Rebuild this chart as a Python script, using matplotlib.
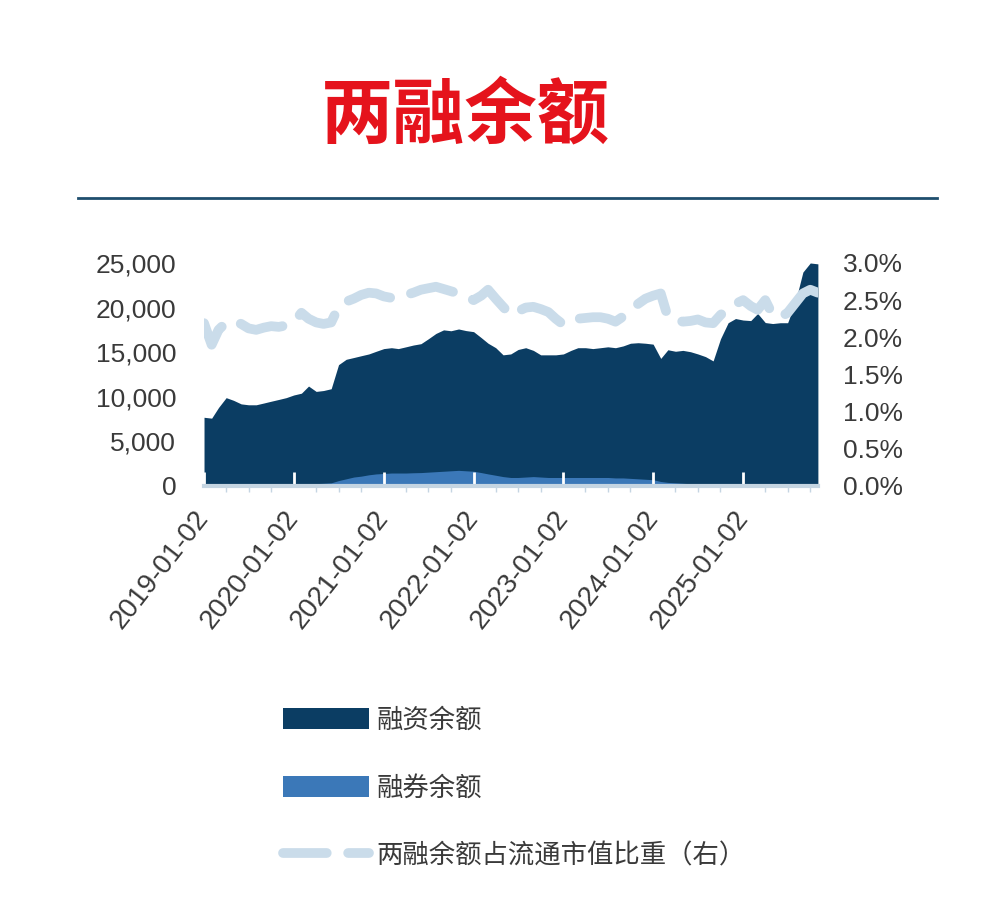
import matplotlib
matplotlib.use("Agg")
import matplotlib.pyplot as plt
import matplotlib.dates as mdates
from matplotlib.patches import Patch
from matplotlib.lines import Line2D
from matplotlib.ticker import FuncFormatter, FixedLocator
import pandas as pd

plt.rcParams['font.family'] = ['Liberation Sans', 'Noto Sans CJK SC']

# monthly data, 2019-01 .. 2025-11 (亿元 / %)
dates = pd.date_range('2019-01-01', periods=83, freq='MS') + pd.Timedelta(days=1)

financing = [7700, 7600, 8800, 9900, 9600, 9200, 9100, 9100, 9300, 9500, 9700, 9900,
             10200, 10400, 11200, 10600, 10700, 10900, 13600, 14200, 14400, 14600, 14800, 15100,
             15400, 15500, 15400, 15600, 15800, 15950, 16500, 17100, 17500, 17400, 17600, 17420,
             17300, 16630, 16000, 15500, 14700, 14800, 15300, 15500, 15200, 14700, 14700, 14700,
             14800, 15200, 15500, 15500, 15400, 15500, 15600, 15500, 15700, 16000, 16060, 16000,
             15900, 14300, 15270, 15100, 15200, 15050, 14800, 14500, 14020, 16500, 18300, 18770,
             18600, 18540, 19340, 18320, 18210, 18300, 18300, 20600, 23980, 25000, 24900]

lending = [70, 80, 100, 110, 110, 120, 130, 140, 150, 160, 170, 190,
           200, 220, 230, 260, 300, 350, 600, 800, 1000, 1100, 1250, 1350,
           1400, 1450, 1450, 1450, 1480, 1500, 1550, 1600, 1650, 1700, 1750, 1700,
           1650, 1500, 1350, 1200, 1050, 950, 950, 1000, 1050, 1000, 950, 950,
           950, 950, 950, 950, 950, 950, 950, 900, 900, 850, 800, 750,
           700, 500, 400, 350, 300, 250, 220, 180, 150, 130, 120, 110,
           110, 110, 120, 120, 120, 130, 140, 150, 160, 170, 180]

ratio = [2.19, 1.90, 2.10, 2.20, 2.22, 2.18, 2.12, 2.10, 2.13, 2.15, 2.14, 2.16,
         2.20, 2.33, 2.25, 2.20, 2.18, 2.20, 2.41, 2.48, 2.52, 2.57, 2.60, 2.59,
         2.55, 2.53, 2.56, 2.57, 2.60, 2.64, 2.66, 2.68, 2.65, 2.62, 2.59, 2.55,
         2.50, 2.56, 2.64, 2.52, 2.41, 2.30, 2.35, 2.40, 2.41, 2.38, 2.34, 2.25,
         2.17, 2.22, 2.25, 2.26, 2.27, 2.27, 2.25, 2.21, 2.28, 2.36, 2.45, 2.52,
         2.56, 2.59, 2.27, 2.24, 2.21, 2.22, 2.24, 2.20, 2.19, 2.30, 2.39, 2.45,
         2.50, 2.42, 2.37, 2.50, 2.30, 2.27, 2.33, 2.46, 2.59, 2.64, 2.60]

tick_labels = ['2019-01-02', '2020-01-02', '2021-01-02', '2022-01-02',
               '2023-01-02', '2024-01-02', '2025-01-02']
left_ticks = [0, 5000, 10000, 15000, 20000, 25000]
right_ticks = [0.0, 0.5, 1.0, 1.5, 2.0, 2.5, 3.0]

c_fin = '#0b3d63'
c_lend = '#3b78b8'
c_ratio = '#cadcea'
c_text = '#3a3a3a'

fig = plt.figure(figsize=(10.08, 9.15), dpi=100)
ax = fig.add_axes([0.2024, 0.4689, 0.609, 0.2437])

ax.fill_between(dates, 0, financing, color=c_fin, lw=0)
ax.fill_between(dates, 0, lending, color=c_lend, lw=0)
ax.set_xlim(dates[0], dates[-1])
ax.set_ylim(0, 25000)
ax.set_yticks(left_ticks)
ax.yaxis.set_major_formatter(FuncFormatter(lambda v, p: f'{int(v):,}'))
ax.tick_params(axis='y', length=0, pad=20, labelsize=19, labelcolor=c_text)

ax.xaxis.set_major_locator(FixedLocator(mdates.date2num(pd.to_datetime(tick_labels))))
ax.set_xticklabels(tick_labels, rotation=52, ha='right', va='center',
                   rotation_mode='anchor', fontsize=20, color=c_text)
ax.xaxis.set_minor_locator(mdates.MonthLocator(bymonth=[4, 7, 10], bymonthday=2))
ax.tick_params(axis='x', which='major', direction='in', length=10, width=2,
               color='white', pad=20)
ax.tick_params(axis='x', which='minor', direction='out', length=4, width=1,
               color='#c5d5e2')
for s in ['top', 'left', 'right']:
    ax.spines[s].set_visible(False)
ax.spines['bottom'].set_color('#c5d5e2')
ax.spines['bottom'].set_linewidth(3)

ax2 = ax.twinx()
ax2.plot(dates, ratio, color=c_ratio, lw=7, dashes=(4.5, 2.2), dash_capstyle='round')
ax2.set_ylim(0, 3.0)
ax2.set_yticks(right_ticks)
ax2.yaxis.set_major_formatter(FuncFormatter(lambda v, p: f'{v:.1f}%'))
ax2.tick_params(axis='y', length=0, pad=18, labelsize=19, labelcolor=c_text)
for s in ['top', 'left', 'right', 'bottom']:
    ax2.spines[s].set_visible(False)

# title and rule
fig.text(0.462, 0.873, '两融余额', ha='center', va='center', fontsize=52,
         fontweight='bold', color='#e5131c', family=['Noto Sans CJK SC'])
fig.add_artist(Line2D([0.077, 0.93], [0.7836, 0.7836], color='#1f4e6e', lw=2))

handles = [Patch(facecolor=c_fin, edgecolor='none'),
           Patch(facecolor=c_lend, edgecolor='none'),
           Line2D([0], [0], color=c_ratio, lw=7, dashes=(4.5, 2.2), dash_capstyle='round')]
labels = ['融资余额', '融券余额', '两融余额占流通市值比重（右）']
leg = fig.legend(handles, labels, loc='upper left', bbox_to_anchor=(0.257, 0.254),
                 frameon=False, handlelength=3.25, handleheight=0.85, handletextpad=0.3,
                 labelspacing=1.55, prop={'family': ['Noto Sans CJK SC'], 'size': 19})
for t in leg.get_texts():
    t.set_color(c_text)

fig.savefig('out.png', dpi=100, facecolor='white')
